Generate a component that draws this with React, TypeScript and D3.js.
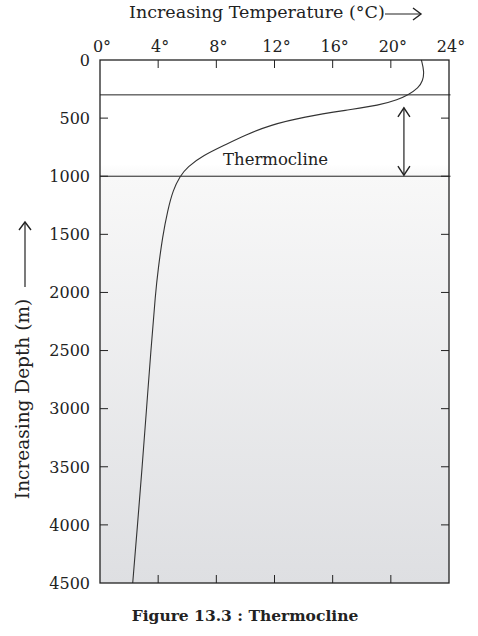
import React from "react";
import * as d3 from "d3";

const depths = [0, 100, 180, 240, 300, 340, 390, 430, 490, 560, 645, 730, 820, 920, 1000, 1120, 1290, 1520, 1800, 2000, 2500, 3000, 3500, 4000, 4500];
const temps = [22.1, 22.3, 22.2, 21.9, 21.2, 20.5, 19.2, 17.0, 14.0, 11.7, 10.0, 8.6, 7.1, 6.0, 5.5, 5.02, 4.66, 4.3, 4.0, 3.82, 3.5, 3.2, 2.9, 2.58, 2.25];
const tempTicks = [0, 4, 8, 12, 16, 20, 24];
const depthTicks = [0, 500, 1000, 1500, 2000, 2500, 3000, 3500, 4000, 4500];
const thermoclineTop = 300;
const thermoclineBottom = 1000;
const xTitle = "Increasing Temperature (°C)";
const yTitle = "Increasing Depth (m)";
const bandLabel = "Thermocline";
const caption = "Figure 13.3 : Thermocline";

const W = 478, H = 636;
const L = 100, R = 449, T = 60, B = 583;
const FONT = "'DejaVu Serif', serif";
const INK = "#222";

export default function App() {
  const x = d3.scaleLinear().domain([0, 24]).range([L, R]);
  const y = d3.scaleLinear().domain([0, 4500]).range([T, B]);
  const line = d3
    .line<number>()
    .x((_, i) => x(temps[i]))
    .y((d) => y(d))
    .curve(d3.curveBasis);
  const pathD = line(depths) || "";
  const tick = 8;
  const arrowX = x(20.9);
  const yArrowX = 25;

  return (
    <svg width={W} height={H} style={{ position: "absolute", left: 0, top: 0, background: "#fff" }} fontFamily={FONT}>
      <defs>
        <linearGradient id="bg" x1="0" y1="0" x2="0" y2="1">
          <stop offset="0" stopColor="#ffffff" />
          <stop offset="0.2" stopColor="#ffffff" />
          <stop offset="0.22" stopColor="#f8f8f8" />
          <stop offset="1" stopColor="#dedfe2" />
        </linearGradient>
      </defs>
      <rect x={L} y={T} width={R - L} height={B - T} fill="url(#bg)" />

      {/* x title with arrow */}
      <text x={129} y={18} fontSize={17.5} fill={INK}>{xTitle}</text>
      <line x1={385} x2={421} y1={14} y2={14} stroke={INK} strokeWidth={1.2} />
      <path d="M413,8 L421,14 L413,20" fill="none" stroke={INK} strokeWidth={1.4} />

      {/* top tick labels */}
      {tempTicks.map((t) => (
        <text key={"tl" + t} x={x(t) + 2} y={52} fontSize={16} textAnchor="middle" fill={INK}>
          {t + "°"}
        </text>
      ))}

      {/* depth labels */}
      {depthTicks.map((d) => (
        <text key={"dl" + d} x={90} y={y(d)} dy="0.36em" fontSize={16} textAnchor="end" fill={INK}>
          {d}
        </text>
      ))}

      {/* y title with arrow */}
      <text
        transform={`translate(29,399) rotate(-90)`}
        fontSize={18.5}
        textAnchor="middle"
        fill={INK}
      >
        {yTitle}
      </text>
      <line x1={yArrowX} x2={yArrowX} y1={287} y2={222} stroke={INK} strokeWidth={1.2} />
      <path d={`M${yArrowX - 6},230 L${yArrowX},222 L${yArrowX + 6},230`} fill="none" stroke={INK} strokeWidth={1.4} />

      {/* ticks */}
      {tempTicks.slice(1, -1).map((t) => (
        <g key={"tt" + t}>
          <line x1={x(t)} x2={x(t)} y1={T} y2={T + tick} stroke={INK} strokeWidth={1} />
          <line x1={x(t)} x2={x(t)} y1={B} y2={B - tick} stroke={INK} strokeWidth={1} />
        </g>
      ))}
      {depthTicks.slice(1, -1).map((d) => (
        <g key={"dt" + d}>
          <line x1={L} x2={L + tick} y1={y(d)} y2={y(d)} stroke={INK} strokeWidth={1} />
          <line x1={R} x2={R - tick} y1={y(d)} y2={y(d)} stroke={INK} strokeWidth={1} />
        </g>
      ))}

      {/* thermocline boundaries */}
      <line x1={L} x2={R + 1.5} y1={y(thermoclineTop)} y2={y(thermoclineTop)} stroke={INK} strokeWidth={1} />
      <line x1={L} x2={R + 1.5} y1={y(thermoclineBottom)} y2={y(thermoclineBottom)} stroke={INK} strokeWidth={1} />

      {/* double arrow */}
      <line x1={arrowX} x2={arrowX} y1={y(thermoclineTop) + 13} y2={y(thermoclineBottom) - 1} stroke={INK} strokeWidth={1.2} />
      <path d={`M${arrowX - 6},${y(thermoclineTop) + 22} L${arrowX},${y(thermoclineTop) + 13} L${arrowX + 6},${y(thermoclineTop) + 22}`} fill="none" stroke={INK} strokeWidth={1.4} />
      <path d={`M${arrowX - 6},${y(thermoclineBottom) - 10} L${arrowX},${y(thermoclineBottom) - 1} L${arrowX + 6},${y(thermoclineBottom) - 10}`} fill="none" stroke={INK} strokeWidth={1.4} />

      <text x={223} y={165} fontSize={16.5} fill={INK}>{bandLabel}</text>

      {/* curve */}
      <path d={pathD} fill="none" stroke="#333" strokeWidth={1.1} />

      {/* frame */}
      <rect x={L} y={T} width={R - L} height={B - T} fill="none" stroke={INK} strokeWidth={1.3} />

      <text x={245} y={621} fontSize={15.5} fontWeight="bold" textAnchor="middle" fill={INK}>{caption}</text>
    </svg>
  );
}
